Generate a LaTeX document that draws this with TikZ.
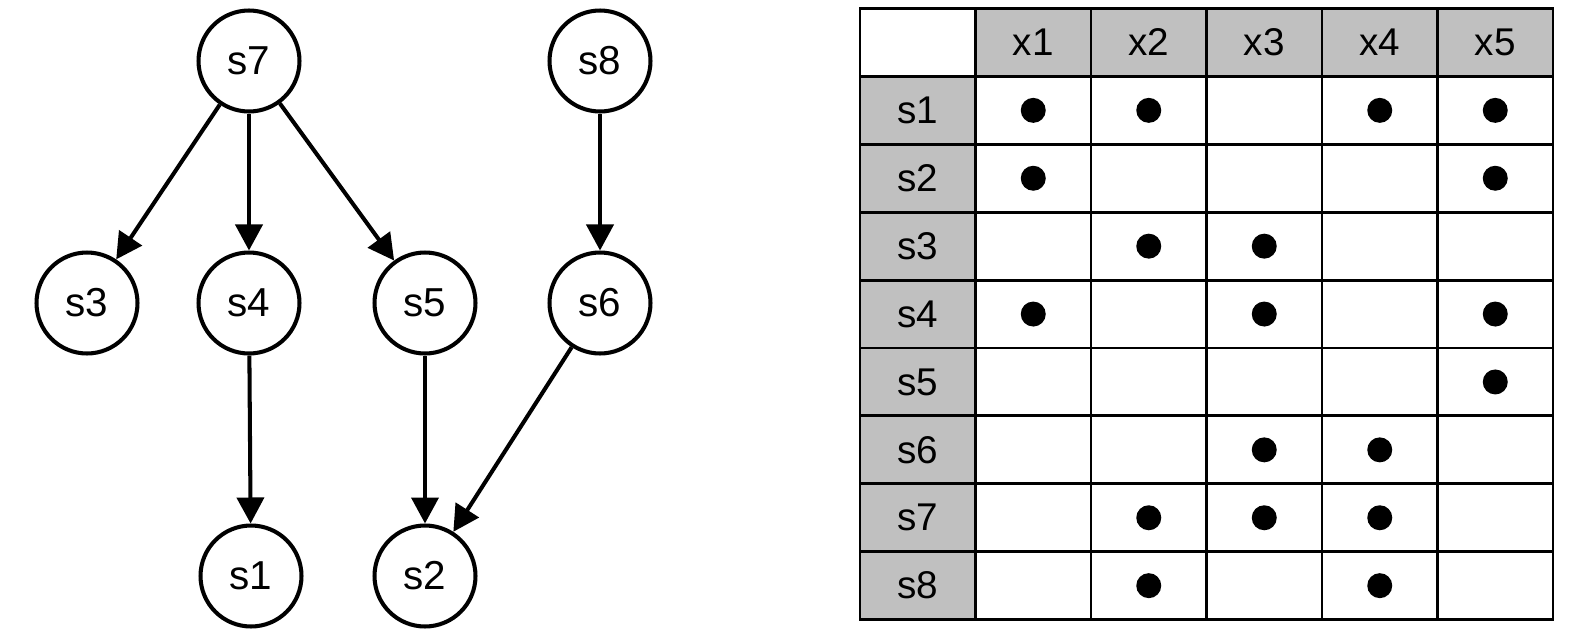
\documentclass[tikz,border=0pt]{standalone}
\usepackage{fontspec}
\setmainfont{Liberation Sans}
\usetikzlibrary{arrows.meta}
\definecolor{headerGray}{RGB}{192,192,192}
\tikzset{
    state/.style={draw, circle, line width=2.3pt, minimum size=2.02cm, inner sep=0pt,
        font=\fontsize{23}{27}\selectfont},
    edge/.style={line width=2.3pt, -{Triangle[length=0.52cm, width=0.54cm]}},
    cell/.style={draw, line width=1.6pt, minimum width=2.31cm, minimum height=1.358cm,
        inner sep=0pt, font=\fontsize{22}{26}\selectfont},
}

\begin{document}
\begin{tikzpicture}[x=0.02cm, y=-0.02cm]
        \pgfmathsetmacro{\tableLeft}{860}
        \pgfmathsetmacro{\tableTop}{8.5}
        \pgfmathsetmacro{\cellWidth}{115.5}
        \pgfmathsetmacro{\cellHeight}{67.9}

        \useasboundingbox (0,0) rectangle (1595,632);

        \node[state] (s7) at (249,61) {s7};
        \node[state] (s8) at (600,61) {s8};
        \node[state] (s3) at (87,303) {s3};
        \node[state] (s4) at (249,303) {s4};
        \node[state] (s5) at (425,303) {s5};
        \node[state] (s6) at (600,303) {s6};
        \node[state] (s1) at (251,576) {s1};
        \node[state] (s2) at (425,576) {s2};

        \draw[edge] (s7) -- (s3);
        \draw[edge] (s7) -- (s4);
        \draw[edge] (s7) -- (s5);
        \draw[edge] (s8) -- (s6);
        \draw[edge] (s4) -- (s1);
        \draw[edge] (s5) -- (s2);
        \draw[edge] (s6) -- (s2);

        \node[cell] (corner) at (\tableLeft + \cellWidth/2, \tableTop + \cellHeight/2) {};
        \foreach \c in {1,...,5}
            \node[cell, fill=headerGray] (x\c) at
                (\tableLeft + \c*\cellWidth + \cellWidth/2, \tableTop + \cellHeight/2) {x\c};
        \foreach \r in {1,...,8} {
            \node[cell, fill=headerGray] (row\r) at
                (\tableLeft + \cellWidth/2, \tableTop + \r*\cellHeight + \cellHeight/2) {s\r};
            \foreach \c in {1,...,5}
                \node[cell] (c\r-\c) at
                    (\tableLeft + \c*\cellWidth + \cellWidth/2, \tableTop + \r*\cellHeight + \cellHeight/2) {};
        }

        \foreach \r/\cols in {1/{1,2,4,5}, 2/{1,5}, 3/{2,3}, 4/{1,3,5},
                5/{5}, 6/{3,4}, 7/{2,3,4}, 8/{2,4}}
            \foreach \c in \cols
                \fill (c\r-\c) circle[radius=0.25cm];
    \end{tikzpicture}
\end{document}
